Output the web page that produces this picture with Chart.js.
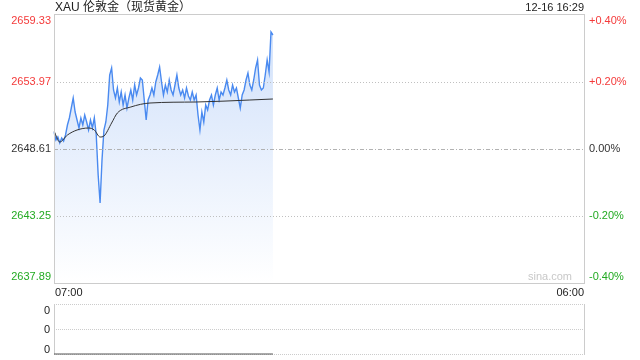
<!DOCTYPE html>
<html>
<head>
<meta charset="utf-8">
<script src="https://cdn.jsdelivr.net/npm/chart.js@4.4.1/dist/chart.umd.min.js"></script>
<style>
  body { margin: 0; background: #fff; font-family: "Liberation Sans", Arial, "Noto Sans CJK SC", sans-serif; }
  #wrap { position: relative; width: 640px; height: 360px; overflow: hidden; }
  #title { position: absolute; left: 55px; top: 0; font-size: 12px; color: #222; line-height: 15px; }
  #stamp { position: absolute; right: 56px; top: 0; font-size: 11px; color: #222; line-height: 15px; }
  #main { position: absolute; left: 0; top: 0; }
  #vol { position: absolute; left: 0; top: 296px; }
</style>
</head>
<body>
<div id="wrap">
  <canvas id="main" width="640" height="300"></canvas>
  <canvas id="vol" width="640" height="64"></canvas>
  <div id="title">XAU 伦敦金（现货黄金）</div>
  <div id="stamp">12-16 16:29</div>
</div>
<script>
/*==== data ====*/
// session runs 07:00 -> 06:00 next day, one slot per 5 minutes
var timeLabels = [];
for (var i = 0; i <= 276; i++) {
    var m = 420 + i * 5;
    var hh = Math.floor(m / 60) % 24, mm = m % 60;
    timeLabels.push((hh < 10 ? '0' : '') + hh + ':' + (mm < 10 ? '0' : '') + mm);
}

// price every 5 minutes from 07:00 to 16:30
const priceValues = [
    2649.97, 2649.33, 2649.57, 2649.09, 2649.49, 2649.25, 2649.73, 2650.53, 2651.09, 2651.89,
    2652.69, 2651.57, 2650.93, 2650.29, 2651.09, 2650.53, 2651.33, 2650.77, 2650.13, 2650.93,
    2650.29, 2651.09, 2649.73, 2646.53, 2644.29, 2647.73, 2650.13, 2650.77, 2652.13, 2654.53,
    2655.09, 2653.33, 2652.69, 2653.49, 2652.37, 2653.17, 2652.13, 2652.93, 2651.89, 2652.69,
    2653.33, 2652.53, 2653.73, 2652.93, 2653.49, 2654.29, 2654.13, 2652.53, 2650.93, 2652.53,
    2652.93, 2653.49, 2652.93, 2653.97, 2654.53, 2655.17, 2653.97, 2652.93, 2653.73, 2653.17,
    2654.13, 2653.33, 2652.93, 2653.73, 2654.53, 2653.49, 2652.93, 2653.33, 2652.69, 2653.49,
    2652.85, 2652.53, 2653.17, 2652.53, 2652.93, 2651.33, 2650.13, 2651.57, 2650.77, 2652.13,
    2651.73, 2652.53, 2652.93, 2652.13, 2652.93, 2653.49, 2652.53, 2653.17, 2652.93, 2653.49,
    2654.13, 2653.33, 2652.93, 2653.73, 2653.17, 2653.49, 2652.69, 2651.89, 2652.93, 2653.33,
    2654.13, 2654.69, 2653.73, 2653.33, 2654.13, 2655.09, 2655.73, 2653.73, 2653.33, 2653.49,
    2654.53, 2655.73, 2654.77, 2657.97, 2657.73
];

// average price line
const avgTimes = ['07:00', '07:15', '07:35', '08:00', '08:30', '08:45', '09:00', '09:10',
    '09:30', '09:45', '10:20', '11:10', '13:10', '15:30', '16:30'];
const avgValues = [2650.05, 2649.17, 2649.73, 2650.13, 2650.29, 2650.13, 2649.57, 2649.65,
    2650.69, 2651.49, 2651.97, 2652.29, 2652.37, 2652.53, 2652.61];

// volume panel (all zero)
const volTimes = ['07:00', '16:30'];
const volValues = [0, 0];
const volTickLabels = ['0', '0', '0'];

const priceTicks = [2659.33, 2653.97, 2648.61, 2643.25, 2637.89];
const pctTicks = ['+0.40%', '+0.20%', '0.00%', '-0.20%', '-0.40%'];
const tickColors = ['#f43a3a', '#f43a3a', '#333333', '#22aa22', '#22aa22'];

const FONT = '11px "Liberation Sans", Arial, sans-serif';

/*==== plugins ====*/
const mainDecor = {
    id: 'mainDecor',
    afterDatasetsDraw: function(chart) {
        // dotted grid goes over the fill, like the original
        var ctx = chart.ctx, a = chart.chartArea, ys = chart.scales.y;
        ctx.save();
        ctx.lineWidth = 1;
        for (var i = 1; i < priceTicks.length - 1; i++) {
            var py = Math.round(ys.getPixelForValue(priceTicks[i])) + 0.5;
            ctx.strokeStyle = i == 2 ? 'rgba(170,170,170,0.9)' : 'rgba(185,185,185,0.9)';
            ctx.setLineDash(i == 2 ? [4, 2, 1, 2] : [1, 2]);
            ctx.beginPath();
            ctx.moveTo(a.left, py);
            ctx.lineTo(a.right, py);
            ctx.stroke();
        }
        ctx.restore();
    },
    afterDraw: function(chart) {
        var ctx = chart.ctx, a = chart.chartArea, ys = chart.scales.y;
        ctx.save();
        ctx.strokeStyle = '#cccccc';
        ctx.lineWidth = 1;
        ctx.strokeRect(a.left + 0.5, a.top - 0.5, a.right - a.left, a.bottom - a.top + 1);

        ctx.font = FONT;
        ctx.textBaseline = 'middle';
        for (var i = 0; i < priceTicks.length; i++) {
            var py = ys.getPixelForValue(priceTicks[i]);
            py = Math.min(Math.max(py, a.top + 6), a.bottom - 6);
            ctx.fillStyle = tickColors[i];
            ctx.textAlign = 'right';
            ctx.fillText(priceTicks[i].toFixed(2), a.left - 3, py);
            ctx.textAlign = 'left';
            ctx.fillText(pctTicks[i], a.right + 5, py);
        }
        ctx.fillStyle = '#222';
        ctx.textAlign = 'left';
        ctx.fillText(timeLabels[0], a.left + 1, a.bottom + 10);
        ctx.textAlign = 'right';
        ctx.fillText(timeLabels[timeLabels.length - 1], a.right, a.bottom + 10);

        ctx.fillStyle = '#c8c8c8';
        ctx.fillText('sina.com', a.right - 12, a.bottom - 6);
        ctx.restore();
    }
};

const volDecor = {
    id: 'volDecor',
    beforeDatasetsDraw: function(chart) {
        var ctx = chart.ctx, a = chart.chartArea;
        var rows = [a.top, (a.top + a.bottom) / 2, a.bottom];
        ctx.save();
        ctx.lineWidth = 1;
        ctx.strokeStyle = '#cccccc';
        ctx.setLineDash([1, 1]);
        rows.forEach(function(r) {
            var py = Math.round(r) + 0.5;
            ctx.beginPath();
            ctx.moveTo(a.left, py);
            ctx.lineTo(a.right + 1, py);
            ctx.stroke();
        });
        ctx.setLineDash([]);
        ctx.beginPath();
        ctx.moveTo(a.left + 0.5, a.top);
        ctx.lineTo(a.left + 0.5, a.bottom);
        ctx.moveTo(a.right + 0.5, a.top);
        ctx.lineTo(a.right + 0.5, a.bottom);
        ctx.stroke();

        ctx.font = FONT;
        ctx.textBaseline = 'middle';
        ctx.textAlign = 'right';
        ctx.fillStyle = '#222';
        for (var i = 0; i < volTickLabels.length; i++) {
            var ty = Math.min(Math.max(rows[i], a.top + 6), a.bottom - 5);
            ctx.fillText(volTickLabels[i], a.left - 4, ty + 1);
        }
        ctx.restore();
    }
};

/*==== config ====*/
const config_price = {
    type: 'line',
    data: {
        labels: timeLabels,
        datasets: [
            {
                label: 'avg',
                data: avgTimes.map(function(t, i) { return { x: t, y: avgValues[i] }; }),
                borderColor: '#333333',
                borderWidth: 1,
                pointRadius: 0,
                cubicInterpolationMode: 'monotone',
                fill: false,
                order: 0
            },
            {
                label: 'price',
                data: priceValues,
                borderColor: '#4a8af0',
                borderWidth: 1.4,
                pointRadius: 0,
                tension: 0,
                fill: 'start',
                backgroundColor: function(context) {
                    var a = context.chart.chartArea;
                    if (!a) return 'rgba(220,232,252,1)';
                    var g = context.chart.ctx.createLinearGradient(0, a.top, 0, a.bottom);
                    g.addColorStop(0, 'rgba(206,223,250,1)');
                    g.addColorStop(1, 'rgba(255,255,255,1)');
                    return g;
                },
                order: 1
            }
        ]
    },
    options: {
        responsive: false,
        animation: false,
        layout: { padding: { left: 54, right: 56, top: 15, bottom: 17 } },
        plugins: { legend: { display: false }, tooltip: { enabled: false } },
        scales: {
            x: { type: 'category', display: false, offset: false },
            y: { display: false, min: priceTicks[4], max: priceTicks[0] }
        }
    },
    plugins: [mainDecor]
};

const config_vol = {
    type: 'line',
    data: {
        labels: timeLabels,
        datasets: [
            {
                label: 'volume',
                data: volTimes.map(function(t, i) { return { x: t, y: volValues[i] }; }),
                borderColor: '#555555',
                borderWidth: 1,
                pointRadius: 0,
                clip: 2
            }
        ]
    },
    options: {
        responsive: false,
        animation: false,
        layout: { padding: { left: 54, right: 56, top: 8, bottom: 6 } },
        plugins: { legend: { display: false }, tooltip: { enabled: false } },
        scales: {
            x: { type: 'category', display: false, offset: false },
            y: { display: false, min: 0, max: 2 }
        }
    },
    plugins: [volDecor]
};

/*===== render =====*/
var priceChart = new Chart(document.getElementById('main'), config_price);
var volChart = new Chart(document.getElementById('vol'), config_vol);
</script>
</body>
</html>
